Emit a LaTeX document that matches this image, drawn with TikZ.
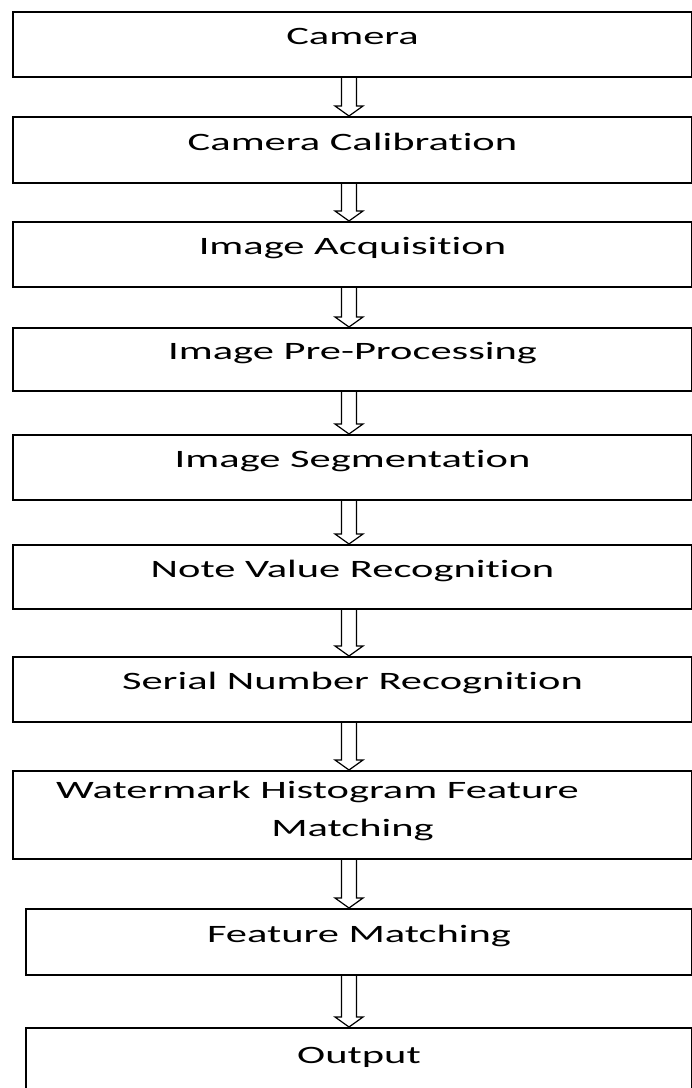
\documentclass[tikz,border=0pt]{standalone}
\usepackage{fontspec}
\setmainfont{Carlito}[FakeStretch=1.7, Ligatures={NoCommon}]
\usepackage{tikz}
\usetikzlibrary{calc}

\newcommand{\flowarrow}[2]{%
  \draw[flow] ($(#1.south -| ax)+(-7.5,0)$) -- ($(#2.north -| ax)+(-7.5,10)$) -- ++(-6.5,0) -- (#2.north -| ax) -- ++(14,10) -- ++(-6.5,0) -- ($(#1.south -| ax)+(7.5,0)$);}

\begin{document}
\begin{tikzpicture}[x=1pt, y=1pt, every node/.style={font=\fontsize{25}{38}\selectfont},
	stage/.style={draw, line width=2pt, minimum width=679pt, minimum height=65pt, inner sep=0pt, text height=17pt, text depth=17pt},
	narrow/.style={minimum width=666pt},
	flow/.style={line width=1.2pt, line join=miter}]
			\useasboundingbox (0,0) rectangle (692,-1088);
			\coordinate(ax) at (349,0);
			\node[stage](cam) at (352.5,-44.5) {Camera};
			\node[stage, minimum height=66pt](calib) at (352.5,-150) {Camera Calibration};
			\node[stage](acq) at (352.5,-254.5) {Image Acquisition};
			\node[stage, minimum height=63pt](prep) at (352.5,-359.5) {Image Pre-Processing};
			\node[stage](seg) at (352.5,-467.5) {Image Segmentation};
			\node[stage, minimum height=64pt](note) at (352.5,-577) {Note Value Recognition};
			\node[stage](serial) at (352.5,-689.5) {Serial Number Recognition};
			\node[stage, minimum height=88pt, align=center, text height=58pt, text depth=16pt](water) at (352.5,-815) {Watermark Histogram Feature\hspace*{70pt}\\Matching};
			\node[stage, narrow, minimum height=66pt](feat) at (359,-942) {Feature Matching};
			\node[stage, narrow, minimum height=70pt](out) at (359,-1063) {Output};
			\flowarrow{cam}{calib}
			\flowarrow{calib}{acq}
			\flowarrow{acq}{prep}
			\flowarrow{prep}{seg}
			\flowarrow{seg}{note}
			\flowarrow{note}{serial}
			\flowarrow{serial}{water}
			\flowarrow{water}{feat}
			\flowarrow{feat}{out}
		\end{tikzpicture}
\end{document}
